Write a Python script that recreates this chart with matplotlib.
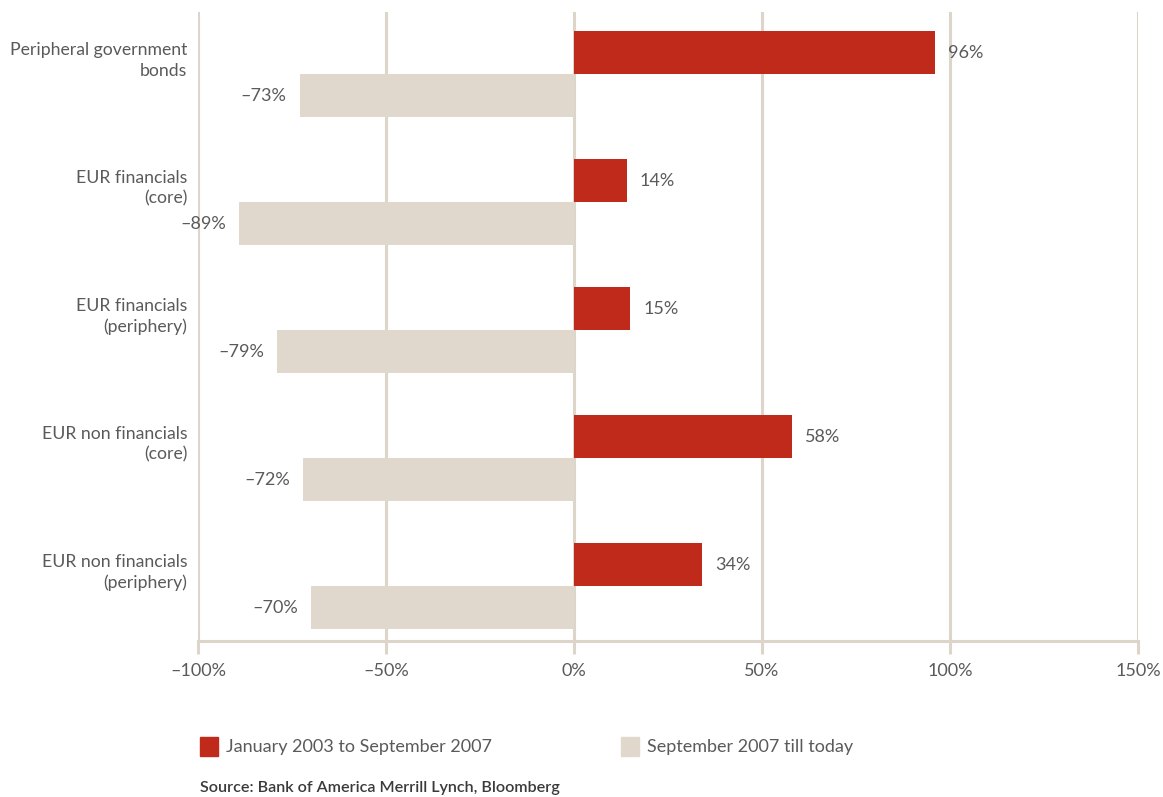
import matplotlib
matplotlib.use("Agg")
from matplotlib import pyplot as plt
from matplotlib.patches import Rectangle

categories = ['Peripheral government\nbonds', 'EUR financials\n(core)', 'EUR financials\n(periphery)',
              'EUR non financials\n(core)', 'EUR non financials\n(periphery)']
pre_crisis = [96, 14, 15, 58, 34]      # January 2003 to September 2007
post_crisis = [-73, -89, -79, -72, -70]  # September 2007 till today
xticks = [-100, -50, 0, 50, 100, 150]
series_names = ['January 2003 to September 2007', 'September 2007 till today']

RED = '#bf2a1a'
BEIGE = '#e0d8cc'
GRID = '#ddd5c9'
TEXT = '#5a5a5a'

plt.rcParams['font.family'] = ['Lato', 'DejaVu Sans']

fig = plt.figure(figsize=(11.63, 7.97), dpi=100)
ax = fig.add_axes([198 / 1163, 1 - 641 / 797, 940 / 1163, 629 / 797])

h = 0.336
ys = list(range(len(categories)))
ax.barh([y - h / 2 for y in ys], pre_crisis, height=h, color=RED, zorder=3)
ax.barh([y + h / 2 for y in ys], post_crisis, height=h, color=BEIGE, zorder=3)

# value labels
for y, v in zip(ys, pre_crisis):
    ax.text(v + 3.5, y - h / 2, f'{v}%', ha='left', va='center', fontsize=13, color=TEXT)
for y, v in zip(ys, post_crisis):
    ax.text(v - 3.5, y + h / 2, f'\u2013{abs(v)}%', ha='right', va='center', fontsize=13, color=TEXT)

# category labels on the left
for y, c in zip(ys, categories):
    ax.text(-102.8, y - 0.11, c, ha='right', va='center', fontsize=12.7, color=TEXT,
            linespacing=1.35)

ax.set_xlim(-100, 150)
ax.set_ylim(4 + 0.426, -0.488)
ax.set_xticks(xticks)
ax.set_xticklabels([('\u2013' + str(abs(t)) if t < 0 else str(t)) + '%' for t in xticks],
                   fontsize=13, color=TEXT)
ax.set_yticks([])
ax.tick_params(axis='x', length=9, width=2.2, color=GRID, pad=7)
ax.grid(axis='x', color=GRID, linewidth=2.2)
ax.set_axisbelow(True)
for s in ['top', 'right', 'left']:
    ax.spines[s].set_visible(False)
ax.spines['bottom'].set_color(GRID)
ax.spines['bottom'].set_linewidth(2.2)

# legend
fig.patches.append(Rectangle((200 / 1163, 1 - 756 / 797), 18 / 1163, 19 / 797,
                             transform=fig.transFigure, color=RED, figure=fig))
fig.text(226 / 1163, 1 - 747 / 797, series_names[0], ha='left', va='center', fontsize=13, color=TEXT)
fig.patches.append(Rectangle((621 / 1163, 1 - 756 / 797), 18 / 1163, 19 / 797,
                             transform=fig.transFigure, color=BEIGE, figure=fig))
fig.text(647 / 1163, 1 - 747 / 797, series_names[1], ha='left', va='center', fontsize=13, color=TEXT)

fig.text(200 / 1163, 1 - 788 / 797, 'Source: Bank of America Merrill Lynch, Bloomberg',
         ha='left', va='center', fontsize=11.6, color='#3a3a3a', fontweight='semibold')

fig.savefig('out.png', dpi=100)
